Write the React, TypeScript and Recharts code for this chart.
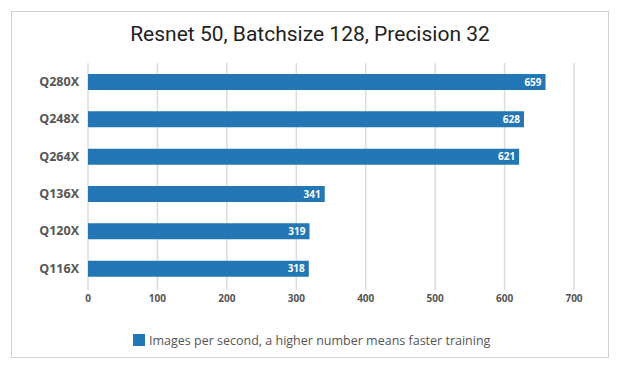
import { BarChart, Bar, XAxis, YAxis, CartesianGrid, LabelList } from "recharts";

const gpus = ["Q280X", "Q248X", "Q264X", "Q136X", "Q120X", "Q116X"];
const imagesPerSec = [659, 628, 621, 341, 319, 318];
const xTicks = [0, 100, 200, 300, 400, 500, 600, 700];

const BLUE = "#2277b4";

export default function App() {
  const data = gpus.map((name, i) => ({ name, value: imagesPerSec[i] }));

  return (
    <div
      style={{
        position: "absolute",
        left: 0,
        top: 0,
        width: 620,
        height: 369,
        background: "#fff",
        fontFamily: "'Open Sans', sans-serif",
      }}
    >
      <div
        style={{
          position: "absolute",
          left: 11,
          top: 11,
          width: 596,
          height: 345,
          border: "1px solid #d0d0d0",
        }}
      />
      <div
        style={{
          position: "absolute",
          left: 0,
          top: 22,
          width: 620,
          textAlign: "center",
          fontFamily: "Roboto, sans-serif",
          fontSize: 21,
          lineHeight: "24px",
          color: "#222",
        }}
      >
        Resnet 50, Batchsize 128, Precision 32
      </div>
      <div style={{ position: "absolute", left: 0, top: 0 }}>
        <BarChart
          width={620}
          height={369}
          data={data}
          layout="vertical"
          margin={{ top: 63, right: 46, bottom: 52, left: 10 }}
          barSize={16}
        >
          <CartesianGrid horizontal={false} stroke="#dcdcdc" strokeWidth={1.5} />
          <XAxis
            type="number"
            domain={[0, 700]}
            ticks={xTicks}
            axisLine={false}
            tickLine={{ stroke: "#dcdcdc", strokeWidth: 1.5 }}
            tickSize={3}
            tickMargin={5}
            height={30}
            tick={{ fill: "#555", fontSize: 10, fontWeight: 700, fontFamily: "'Open Sans', sans-serif" }}
          />
          <YAxis
            type="category"
            dataKey="name"
            width={78}
            axisLine={false}
            tickLine={false}
            tickSize={0}
            tickMargin={9}
            tick={{ fill: "#555", fontSize: 12.5, fontWeight: 700, fontFamily: "'Open Sans', sans-serif" }}
          />
          <Bar dataKey="value" fill={BLUE} isAnimationActive={false}>
            <LabelList
              dataKey="value"
              position="insideRight"
              offset={4}
              fill="#fff"
              style={{ fontSize: 10, fontWeight: 700, fontFamily: "'Open Sans', sans-serif" }}
            />
          </Bar>
        </BarChart>
      </div>
      <div
        style={{
          position: "absolute",
          left: 133,
          top: 331,
          height: 18,
          display: "flex",
          alignItems: "center",
          fontSize: 12.5,
          color: "#555",
        }}
      >
        <span style={{ display: "inline-block", width: 12, height: 12, background: BLUE, marginRight: 4 }} />
        Images per second, a higher number means faster training
      </div>
    </div>
  );
}
